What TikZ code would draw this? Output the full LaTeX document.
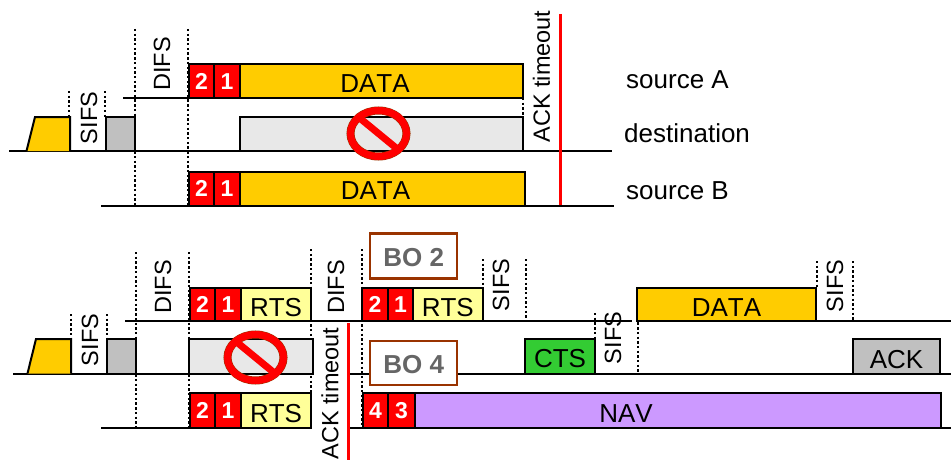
\documentclass[tikz,border=0pt]{standalone}
\usepackage{fontspec}
\setmainfont[Kerning=Off]{Liberation Sans}
\usetikzlibrary{shapes.geometric}
\definecolor{dataY}{HTML}{FFCC00}
\definecolor{rtsY}{HTML}{FFFF99}
\definecolor{grayB}{HTML}{C0C0C0}
\definecolor{ctsG}{HTML}{33CC33}
\definecolor{navP}{HTML}{CC99FF}
\definecolor{jam}{HTML}{E8E8E8}
\definecolor{boB}{HTML}{993300}
\definecolor{boT}{HTML}{666666}
\newcommand{\fsz}[1]{\fontsize{#1}{#1}\selectfont}
\newcommand{\slot}[7][]{\node[slotbox,#1,minimum width={#5-#3},minimum height={#6-#4}] (#2) at ({(#3+#5)/2},{(#4+#6)/2}) {\raisebox{-2pt}{#7}};}
\tikzset{
 x=1pt,y=-1pt,
 slotbox/.style={draw=black,line width=2pt,inner sep=0pt,outer sep=0pt,text height=19pt,text depth=0pt,font=\fsz{26}},
 count/.style={fill=red,text=white,text height=12pt,font=\bfseries\fsz{23}},
 datab/.style={fill=dataY},
 rtsb/.style={fill=rtsY},
 jamb/.style={fill=jam},
 grayb/.style={fill=grayB},
 ctsb/.style={fill=ctsG},
 navb/.style={fill=navP},
 baseline/.style={line width=2pt,black},
 tick/.style={line width=2pt,black,dash pattern=on 2.4pt off 2.3pt},
 redline/.style={line width=3pt,red},
 rotlabel/.style={rotate=90,inner sep=0pt,font=\fsz{23.5}},
 lab/.style={anchor=west,inner sep=0pt,font=\fsz{26}},
 boxtext/.style={anchor=base,inner sep=0pt,font=\fsz{26}},
 bobox/.style={draw=boB,fill=white,line width=2.5pt,inner sep=0pt,outer sep=0pt,text=boT,text height=20.5pt,text depth=0pt,font=\bfseries\fsz{26}},
 stopring/.style={ellipse,draw=red,line width=7pt,preaction={draw=boB,line width=8pt},inner sep=0pt,outer sep=0pt,minimum width=56pt,minimum height=46pt},
 stopbar/.style={line width=7pt,red},
}
\begin{document}
\begin{tikzpicture}
\useasboundingbox (0,0) rectangle (951,460);
% ---------- upper diagram ----------
\draw[baseline] (123,98.5) -- (523,98.5);
\draw[baseline] (9,151) -- (612,151);
\draw[baseline] (101,206) -- (614,206);
\draw[tick] (135,29) -- (135,206);
\draw[tick] (188,29) -- (188,206);
\draw[tick] (69,91) -- (69,117);
\draw[tick] (105,91) -- (105,117);
\draw[tick] (523,98) -- (523,117);
\draw[line width=2pt,fill=dataY] (26.5,151) -- (35,117) -- (70,117) -- (70,151);
\slot[grayb]{ga}{105.5}{117}{135}{151}{}
\slot[count]{a2}{189}{64.5}{214}{98.5}{2}
\slot[count]{a1}{214}{64.5}{240}{98.5}{1}
\slot[datab]{adata}{240}{64.5}{523}{98.5}{}
\node[boxtext] (adatat) at (375,92.7) {DATA};
\slot[jamb]{djam}{240}{117}{523}{151}{}
\slot[count]{b2}{189}{171.5}{214}{206}{2}
\slot[count]{b1}{214}{171.5}{240}{206}{1}
\slot[datab]{bdata}{240}{171.5}{525}{206}{}
\node[boxtext] (bdatat) at (375.5,199.5) {DATA};
\node[stopring] (stopa) at (378.5,133.5) {};
\draw[stopbar] (stopa.north west) -- (stopa.south east);
\node[rotlabel] (sifsa) at (89,118) {SIFS};
\node[rotlabel] (difsa) at (162,64) {DIFS};
\node[rotlabel] (tmoa) at (541.5,76.5) {ACK timeout};
\draw[redline] (560.5,14) -- (560.5,205);
\node[lab] (srca) at (626,80) {source A};
\node[lab] (dest) at (624,133) {destination};
\node[lab] (srcb) at (626,191) {source B};
% ---------- lower diagram ----------
\draw[baseline] (125,321) -- (632,321);
\draw[baseline] (637,321) -- (951,321);
\draw[baseline] (13,373.5) -- (313,373.5);
\draw[baseline] (350,373.5) -- (951,373.5);
\draw[baseline] (101,428) -- (311,428);
\draw[baseline] (350,428) -- (951,428);
\draw[tick] (136,252) -- (136,430);
\draw[tick] (189,252) -- (189,430);
\draw[tick] (311,249) -- (311,393);
\draw[tick] (362,249) -- (362,427);
\draw[tick] (71,314) -- (71,339);
\draw[tick] (107,314) -- (107,339);
\draw[tick] (482.7,259) -- (482.7,288);
\draw[tick] (525.5,259) -- (525.5,320);
\draw[tick] (595,313) -- (595,339);
\draw[tick] (637.7,313) -- (637.7,373);
\draw[tick] (816.5,261) -- (816.5,288);
\draw[tick] (852.5,261) -- (852.5,320);
\draw[line width=2pt,fill=dataY] (27.5,373.5) -- (36,339) -- (71,339) -- (71,373.5);
\slot[grayb]{gb}{107}{339}{136}{373.5}{}
\slot[count]{c2}{190}{288}{215}{321}{2}
\slot[count]{c1}{215}{288}{241}{321}{1}
\slot[rtsb]{crts}{241}{288}{311}{321}{RTS}
\slot[jamb]{ejam}{189}{339}{313}{373.5}{}
\slot[count]{f2}{190}{393}{215}{428}{2}
\slot[count]{f1}{215}{393}{241}{428}{1}
\slot[rtsb]{frts}{241}{393}{311}{428}{RTS}
\node[stopring] (stopb) at (255.5,357.5) {};
\draw[stopbar] (stopb.north west) -- (stopb.south east);
\slot[count]{g2}{362}{288}{388}{321}{2}
\slot[count]{g1}{388}{288}{413}{321}{1}
\slot[rtsb]{grts}{413}{288}{482.5}{321}{RTS}
\slot[count]{h4}{363}{393}{388}{428}{4}
\slot[count]{h3}{388}{393}{415}{428}{3}
\slot[navb]{nav}{415}{393}{940.5}{428}{}
\node[boxtext] (navt) at (626,422.7) {NAV};
\slot[ctsb]{cts}{525}{339}{595}{373.5}{CTS}
\slot[datab]{ddata}{637}{288}{816}{321}{DATA}
\slot[grayb]{ack}{853}{339}{940}{374}{ACK}
\node[bobox,minimum width=87pt,minimum height=45pt] (bo2) at (413.7,256) {BO 2};
\node[bobox,minimum width=87pt,minimum height=44pt] (bo4) at (413.7,363) {BO 4};
\node[rotlabel] (sifsb) at (90,340) {SIFS};
\node[rotlabel] (difsb) at (163,287) {DIFS};
\node[rotlabel] (difsc) at (336,287) {DIFS};
\node[rotlabel] (tmob) at (330,393.5) {ACK timeout};
\draw[redline] (348,323) -- (348,460);
\node[rotlabel] (sifsc) at (501,285) {SIFS};
\node[rotlabel] (sifsd) at (613,338) {SIFS};
\node[rotlabel] (sifse) at (835,286) {SIFS};
\end{tikzpicture}
\end{document}
